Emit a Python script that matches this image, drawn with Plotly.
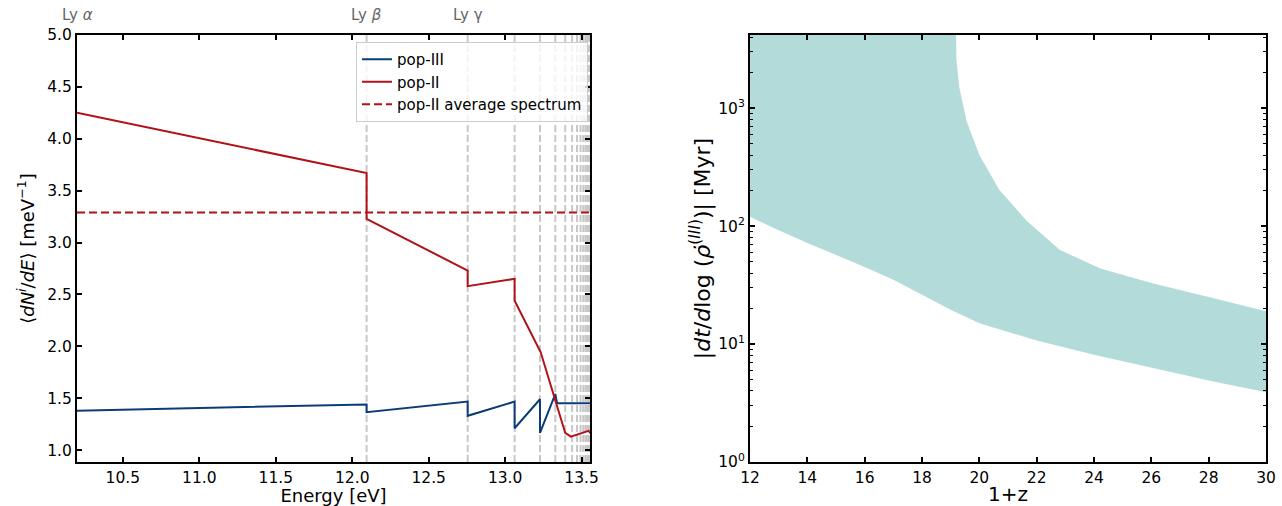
import plotly.graph_objects as go

# ---------------- left panel: Lyman-band emission spectra ----------------
# Lyman series line energies [eV] (Ly beta onward), used as reference markers
ly_lines = [12.094, 12.755, 13.062, 13.228, 13.328, 13.393, 13.438, 13.470,
            13.493, 13.511, 13.525, 13.536, 13.545, 13.553, 13.559, 13.564,
            13.569, 13.573, 13.576, 13.579, 13.582, 13.584, 13.586, 13.588]
ly_labels = ["Ly <i>α</i>", "Ly <i>β</i>", "Ly γ"]
ly_label_pos = [10.2, 12.094, 12.755]

# pop-III spectrum (piecewise between Lyman lines)
pop3_E = [10.2, 12.094, 12.094, 12.755, 12.755, 13.062, 13.062, 13.228,
          13.228, 13.328, 13.34, 13.6]
pop3_N = [1.38, 1.44, 1.365, 1.467, 1.33, 1.467, 1.21, 1.49,
          1.165, 1.54, 1.45, 1.45]

# pop-II spectrum
pop2_E = [10.2, 12.094, 12.094, 12.755, 12.755, 13.062, 13.062, 13.228,
          13.232, 13.393, 13.43, 13.545, 13.56]
pop2_N = [4.25, 3.67, 3.227, 2.73, 2.58, 2.65, 2.44, 1.97,
          1.945, 1.165, 1.13, 1.185, 1.16]

pop2_avg = 3.29

# ---------------- right panel: time-scale band ----------------
z_low = [12, 13, 14, 15, 16, 17, 18, 19, 20, 21, 22, 24, 26, 28, 30]
t_low = [120, 92, 72, 57, 45, 35, 26, 19.5, 15, 12.6, 10.7, 8.1, 6.3, 4.9, 3.9]

z_up = [12, 16, 19.12, 19.2, 19.3, 19.56, 20.0, 20.7, 21.65, 22.8, 24.2,
        26, 28, 30]
t_up = [1e5, 1e5, 1e5, 2600, 1500, 770, 400, 202, 111, 63, 44,
        33, 25, 19]

font_family = "DejaVu Sans"
RED = "#b01218"
BLUE = "#0c3c78"
BAND = "#b3dbda"

E_MIN, E_MAX = 10.2, 13.555
N_MIN, N_MAX = 0.885, 5.0

fig = go.Figure()

# Lyman line markers
vx, vy = [], []
for e in ly_lines:
    vx += [e, e, None]
    vy += [N_MIN, N_MAX, None]
fig.add_trace(go.Scatter(x=vx, y=vy, mode="lines", xaxis="x", yaxis="y",
                         line=dict(color="#c8c8c8", width=2, dash="7px,3px"),
                         showlegend=False, hoverinfo="skip"))

fig.add_trace(go.Scatter(x=pop3_E, y=pop3_N, mode="lines", name="pop-III",
                         line=dict(color=BLUE, width=2), xaxis="x", yaxis="y"))
fig.add_trace(go.Scatter(x=pop2_E, y=pop2_N, mode="lines", name="pop-II",
                         line=dict(color=RED, width=2), xaxis="x", yaxis="y"))
fig.add_trace(go.Scatter(x=[E_MIN, E_MAX], y=[pop2_avg, pop2_avg], mode="lines",
                         name="pop-II average spectrum",
                         line=dict(color=RED, width=2, dash="8px,4px"),
                         xaxis="x", yaxis="y"))

# band between lower and upper time-scale curves
band_x = z_low + z_up[::-1]
band_y = t_low + t_up[::-1]
fig.add_trace(go.Scatter(x=band_x, y=band_y, mode="lines", fill="toself",
                         fillcolor=BAND, line=dict(width=0, color=BAND),
                         xaxis="x2", yaxis="y2", showlegend=False,
                         hoverinfo="skip"))

axis_common = dict(showline=True, linecolor="black", linewidth=2,
                   mirror="ticks", ticks="inside", ticklen=5, tickwidth=1.5,
                   tickcolor="black", showgrid=False, zeroline=False,
                   automargin=False,
                   tickfont=dict(family=font_family, size=15.5, color="black"))

minor_log = [v * 10 ** d for d in range(0, 4) for v in range(2, 10)]

fig.update_layout(
    width=1282, height=506,
    margin=dict(l=0, r=0, t=0, b=0),
    paper_bgcolor="white", plot_bgcolor="white",
    font=dict(family=font_family, color="black"),
    xaxis=dict(domain=[77 / 1282, 590 / 1282], range=[E_MIN, E_MAX],
               tickvals=[10.5, 11.0, 11.5, 12.0, 12.5, 13.0, 13.5],
               ticktext=["10.5", "11.0", "11.5", "12.0", "12.5", "13.0", "13.5"],
               title=dict(text="Energy [eV]", font=dict(size=18), standoff=6),
               anchor="y", **axis_common),
    yaxis=dict(domain=[44 / 506, 471 / 506], range=[N_MIN, N_MAX],
               tickvals=[1.0, 1.5, 2.0, 2.5, 3.0, 3.5, 4.0, 4.5, 5.0],
               ticktext=["1.0", "1.5", "2.0", "2.5", "3.0", "3.5", "4.0", "4.5", "5.0"],
               title=dict(text="⟨<i>dN<sup>i</sup></i>/<i>dE</i>⟩ [meV<sup>−1</sup>]",
                          font=dict(size=18), standoff=8),
               anchor="x", **axis_common),
    xaxis2=dict(domain=[750 / 1282, 1266 / 1282], range=[12, 30],
                tickvals=list(range(12, 31, 2)),
                title=dict(text="1+z", font=dict(size=20), standoff=4),
                anchor="y2", **axis_common),
    yaxis2=dict(domain=[44 / 506, 471 / 506], type="log", range=[0, 3.62],
                tickvals=[1, 10, 100, 1000],
                ticktext=["10<sup>0</sup>", "10<sup>1</sup>", "10<sup>2</sup>",
                          "10<sup>3</sup>"],
                minor=dict(tickvals=minor_log, ticks="inside", ticklen=3,
                           tickcolor="black", tickwidth=1),
                title=dict(text="|<i>dt</i>/<i>d</i>log (<i>ρ̇</i><sup>(<i>III</i>)</sup>)| [Myr]",
                           font=dict(size=22), standoff=2),
                anchor="x2", **axis_common),
    legend=dict(x=588 / 1282, xanchor="right", y=464 / 506, yanchor="top",
                bgcolor="rgba(255,255,255,0.8)", bordercolor="#cccccc",
                borderwidth=1, font=dict(family=font_family, size=15),
                tracegroupgap=0),
)

for txt, pos in zip(ly_labels, ly_label_pos):
    fig.add_annotation(x=pos, y=491 / 506, xref="x", yref="paper", text=txt,
                       showarrow=False, font=dict(family=font_family, size=15,
                                                  color="#666666"),
                       xanchor="center", yanchor="middle")

fig.write_html("out.html")
